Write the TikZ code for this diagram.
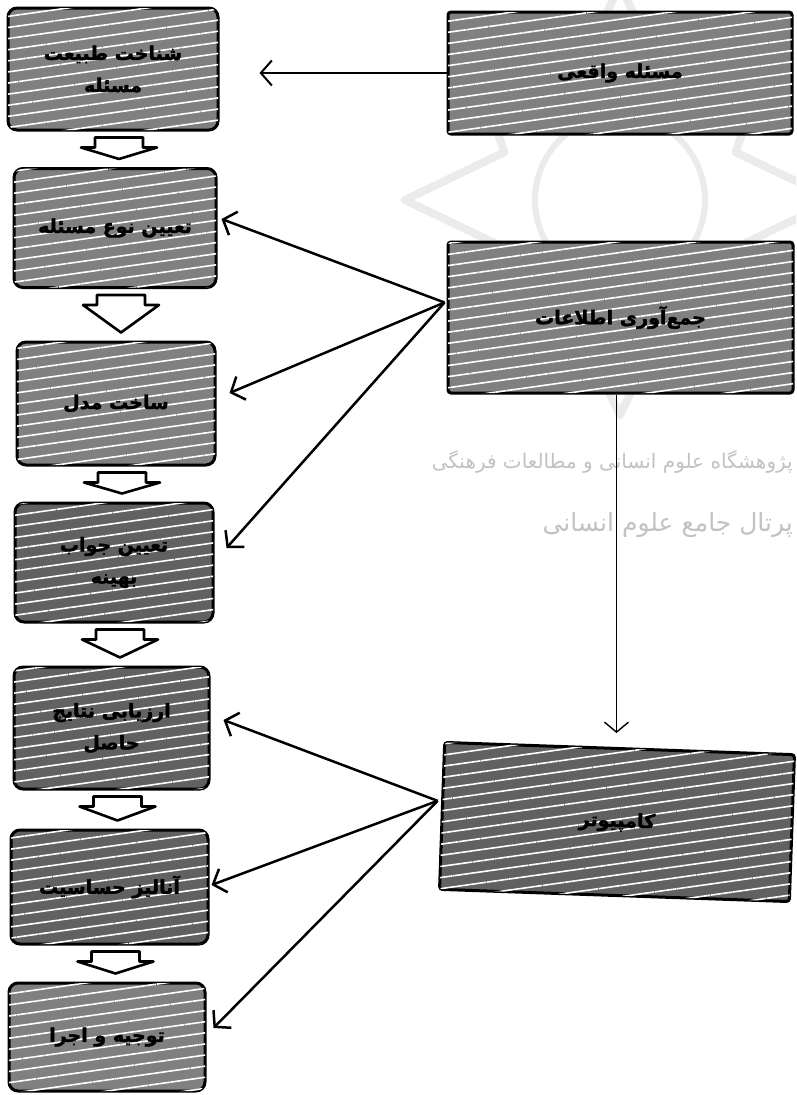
\documentclass[tikz,border=0pt]{standalone}
\usepackage{fontspec}
\usetikzlibrary{arrows.meta,calc,patterns.meta}
\TeXXeTstate=1
\newfontfamily\arabicfont[Script=Arabic,BoldFeatures={FakeBold=2}]{DejaVu Sans}
\newcommand\fa[1]{{\arabicfont\beginR #1\endR}}
\newcommand\blockarr[2]{%
  \draw[blockarrow] let \p1=(#1.south), \p2=(#2.north) in
    (\x1-18pt,\y1-6pt) -- (\x1+30pt,\y1-6pt) -- (\x1+30pt,\y1-16pt) --
    (\x1+44pt,\y1-16pt) -- (\x1+6pt,\y2+8pt) -- (\x1-32pt,\y1-16pt) --
    (\x1-18pt,\y1-16pt) -- cycle;}
\begin{document}
\begin{tikzpicture}[x=1pt,y=-1pt,
  boxbase/.style={draw=black, line width=3pt, fill=black!50,
    postaction={pattern={Lines[angle=8,distance=11pt,line width=1.6pt]}, pattern color=white},
    inner sep=2pt, align=center, font=\bfseries\fontsize{19}{32}\selectfont},
  lbox/.style={boxbase, rounded corners=9pt},
  rbox/.style={boxbase, rounded corners=3pt},
  dark/.style={fill=black!62},
  conn/.style={line width=2.5pt, -{Straight Barb[length=11pt,width=25pt]}},
  vconn/.style={line width=1.4pt, -{Straight Barb[length=10pt,width=24pt]}},
  blockarrow/.style={draw=black, fill=white, line width=2.6pt, line join=round},
  wm/.style={draw=black!8, line width=8pt, line join=round},
  wmtext/.style={text=black!24, font=\fontsize{20}{24}\selectfont, inner sep=0pt}]
\useasboundingbox (0,0) rectangle (796,1095);
\clip (0,0) rectangle (796,1095);
\fill[white] (0,0) rectangle (796,1095);
% faint watermark logo
\draw[wm] ($(620,200)+(0:215)$)
  \foreach \a in {22.5,45,...,360} {
    -- ($(620,200)+({\a}:{mod(\a,45)==0 ? 215 : 125})$) } -- cycle;
\draw[wm, line width=6pt] (620,200) circle (85);
% watermark text
\node[wmtext, anchor=east] (wm1) at (793,462) {\fa{پژوهشگاه علوم انسانی و مطالعات فرهنگی}};
\node[wmtext, anchor=east, font=\fontsize{25}{28}\selectfont] (wm2) at (793,525) {\fa{پرتال جامع علوم انسانی}};
% left column
\node[lbox, minimum width=210pt, minimum height=122pt] (b1) at (113,69) {\fa{شناخت طبیعت}\\\fa{مسئله}};
\node[lbox, minimum width=202pt, minimum height=119pt] (b2) at (115,228) {\fa{تعیین نوع مسئله}};
\node[lbox, minimum width=198pt, minimum height=123pt] (b3) at (116,403.5) {\fa{ساخت مدل}};
\node[lbox, dark, minimum width=198pt, minimum height=119pt] (b4) at (114,562.5) {\fa{تعیین جواب}\\\fa{بهینه}};
\node[lbox, dark, minimum width=195pt, minimum height=122pt] (b5) at (111.5,728) {\fa{ارزیابی نتایج}\\\fa{حاصل}};
\node[lbox, dark, minimum width=197pt, minimum height=114pt] (b6) at (109.5,887) {\fa{آنالیز حساسیت}};
\node[lbox, minimum width=196pt, minimum height=108pt] (b7) at (107,1037) {\fa{توجیه و اجرا}};
% right column
\node[rbox, minimum width=344pt, minimum height=122pt] (r1) at (620,73) {\fa{مسئله واقعی}};
\node[rbox, minimum width=345pt, minimum height=151pt] (r2) at (620.5,317.5) {\fa{جمع‌آوری اطلاعات}};
\node[rbox, dark, rotate=-2, minimum width=350pt, minimum height=147pt] (r3) at (617,822) {\fa{کامپیوتر}};
% block arrows
\blockarr{b1}{b2}
\blockarr{b2}{b3}
\blockarr{b3}{b4}
\blockarr{b4}{b5}
\blockarr{b5}{b6}
\blockarr{b6}{b7}
% connectors
\draw[conn, line width=2pt, shorten >=40pt] (r1.west) -- (r1.west -| b1.east);
\coordinate (c2) at ($(r2.west)+(-2,-15)$);
\draw[conn] (c2) -- ($(b2.east)+(4,-9)$);
\draw[conn] (c2) -- ($(b3.east)+(13,-10.5)$);
\draw[conn] (c2) -- ($(b4.east)+(12,-14.5)$);
\coordinate (c3) at ($(r3.west)+(-3,-15)$);
\draw[conn] (c3) -- ($(b5.east)+(13,-8)$);
\draw[conn] (c3) -- ($(b6.east)+(2,-2)$);
\draw[conn] (c3) -- ($(b7.east)+(7,-9)$);
\coordinate (vtop) at ($(r2.south)+(-4,0)$);
\draw[vconn, shorten >=14pt] (vtop) -- (vtop |- r3.north);
\end{tikzpicture}
\end{document}
